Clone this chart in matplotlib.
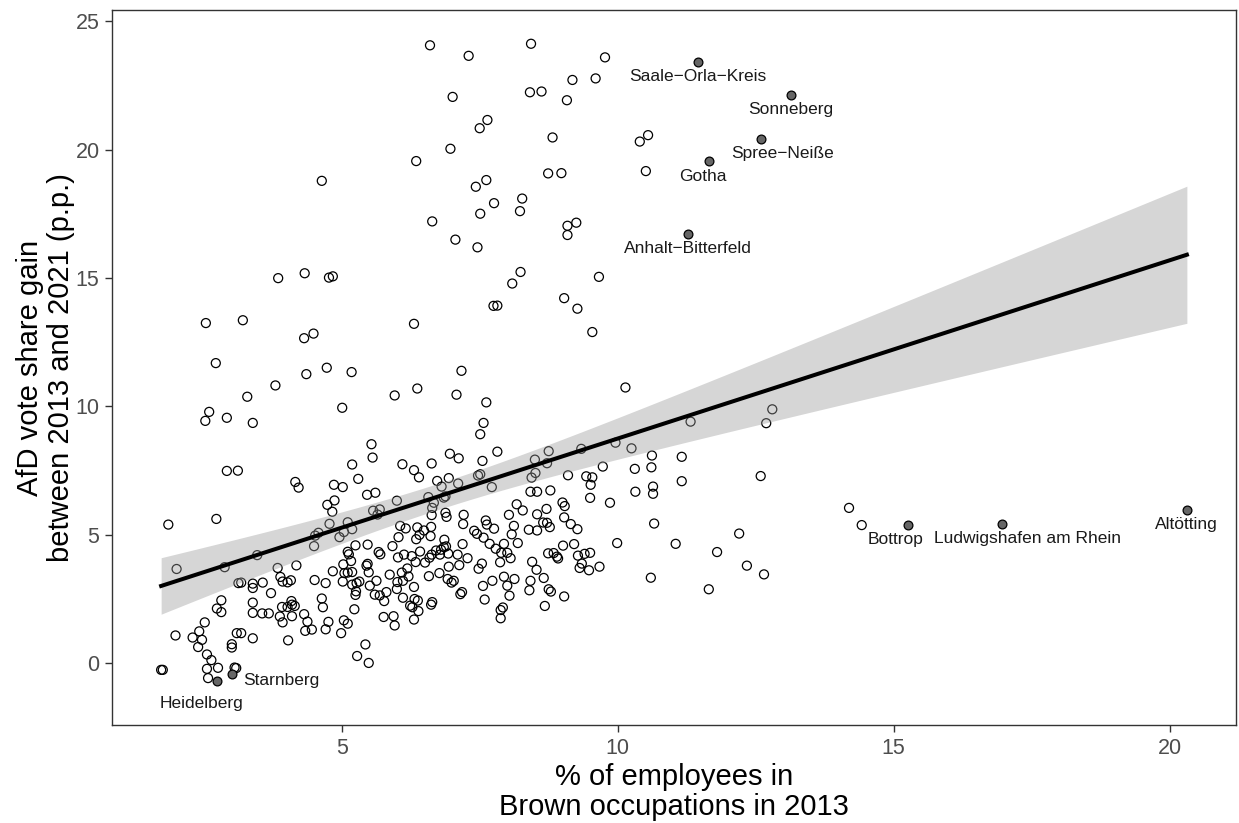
import numpy as np
import matplotlib
matplotlib.use("Agg")
import matplotlib.pyplot as plt

plt.rcParams['font.family'] = ['Liberation Sans', 'DejaVu Sans']

# districts: share of brown occupations 2013 (%) vs AfD gain 2013-2021 (p.p.)
brown_share = [
    4.64, 3.85, 4.33, 4.77, 4.84, 2.54, 3.21, 4.32, 4.49, 2.72, 4.36, 4.73, 5.18, 3.80,
    6.60, 7.30, 8.43, 9.77, 7.01, 9.18, 9.60, 8.41, 8.62, 9.08, 7.50, 7.64, 8.82, 6.97,
    10.40, 10.55, 6.35, 10.51, 8.74, 8.98, 7.43, 7.62, 8.27, 7.76, 7.51, 8.23, 6.64, 9.09,
    9.25, 9.09, 7.06, 7.46, 8.24, 8.09, 9.66, 7.75, 7.82, 9.03, 9.27, 6.31, 9.54, 7.17,
    6.37, 10.14,
    3.29, 2.60, 2.53, 2.92, 3.39, 2.92, 3.12, 4.16, 4.22, 1.86, 2.73,
    5.01, 5.96, 7.08, 7.62, 7.57, 7.51, 7.82, 5.54, 5.56, 6.96, 7.12, 5.19, 6.10, 6.63,
    6.31, 6.40, 7.55, 5.30, 4.86, 5.02, 6.73, 6.94, 7.11, 7.47, 7.51, 7.72, 5.46, 5.61,
    6.81, 6.57, 6.88, 6.85, 4.74, 4.87, 4.83, 6.00, 5.57, 5.69, 5.65, 6.64, 6.67, 4.78,
    5.11, 5.19, 4.58, 4.52, 4.96, 5.04, 4.50, 6.63, 6.88, 6.90, 7.21, 7.20, 7.61, 7.63,
    7.76, 6.06, 6.16, 6.37, 6.49, 6.62, 6.03, 6.35, 6.41, 6.61, 7.40, 7.45, 7.57, 7.68,
    6.86, 7.19,
    11.32, 8.75, 8.50, 8.72, 9.34, 9.96, 10.25, 10.62, 11.16, 8.51, 8.44, 9.10, 9.73,
    10.31, 10.61, 9.43, 9.54, 9.51, 11.16, 10.64, 10.64, 8.42, 8.54, 8.78, 10.32, 9.50,
    9.86, 8.17, 8.28, 9.00, 9.04, 8.71, 8.03, 8.54, 9.03, 10.66, 8.12, 8.65, 8.72, 8.77,
    9.15, 9.27, 8.39, 8.54, 8.08, 7.94, 8.19, 9.01, 9.21, 9.99, 11.05,
    7.79, 7.89, 8.00, 8.06, 7.87, 8.74, 8.84, 8.90, 8.92, 8.45, 8.53, 9.28, 9.40, 9.50,
    9.35, 9.31, 9.48, 9.67, 10.60, 11.65, 7.73, 7.94, 8.13, 8.00, 8.42, 8.40, 8.66, 8.75,
    8.79, 9.03, 8.04, 8.68, 7.92, 7.88, 7.88,
    2.01, 2.88, 3.47, 3.84, 4.18, 3.13, 3.18, 3.39, 3.39, 3.57, 3.89, 3.93, 4.02, 4.08,
    3.72, 2.82, 2.74, 2.82, 3.39, 3.39, 3.56, 3.68, 3.92, 4.09, 4.02, 4.10, 4.15, 3.88,
    3.93, 4.10, 4.32, 4.38, 4.34, 2.52, 2.42, 2.30, 2.47, 2.40, 1.99, 3.10, 3.18, 3.39,
    4.03, 3.01, 3.01, 2.56, 2.64, 2.56, 2.76, 3.06, 3.09, 2.58, 1.73, 1.76,
    5.25, 5.47, 5.92, 5.67, 5.70, 5.11, 5.13, 5.17, 6.02, 6.13, 6.27, 6.42, 6.34, 6.51,
    6.59, 6.63, 6.71, 6.80, 6.78, 6.89, 6.93, 6.85, 7.10, 7.28, 5.03, 4.84, 5.05, 5.11,
    5.19, 5.45, 5.47, 5.49, 5.87, 6.09, 6.19, 6.21, 6.01, 6.00, 6.11, 6.31, 6.58, 6.77,
    6.94, 7.13, 6.92, 6.99, 7.03, 7.15, 7.18, 7.48, 7.54, 7.56, 7.59, 4.51, 4.71, 5.02,
    5.19, 5.27, 5.32, 5.26, 5.25, 5.51, 5.63, 5.60, 5.69, 5.81, 5.77, 6.11, 6.32, 6.38,
    6.24, 6.28, 6.39, 6.31, 6.64, 6.62, 4.64, 4.66, 5.23, 5.76, 5.94, 5.96, 5.04, 5.11,
    4.76, 4.71, 4.46, 4.99, 5.43, 5.28, 5.49,
    12.80, 12.69, 12.59, 14.19, 14.42, 12.20, 11.80, 12.34, 12.65,
]
afd_gain = [
    18.79, 15.00, 15.19, 15.02, 15.07, 13.25, 13.36, 12.66, 12.84, 11.69, 11.26, 11.51, 11.34, 10.82,
    24.07, 23.66, 24.13, 23.60, 22.06, 22.72, 22.78, 22.24, 22.27, 21.93, 20.84, 21.16, 20.48, 20.04,
    20.32, 20.57, 19.56, 19.17, 19.08, 19.09, 18.56, 18.82, 18.10, 17.92, 17.51, 17.61, 17.21, 17.04,
    17.16, 16.68, 16.50, 16.20, 15.24, 14.79, 15.05, 13.92, 13.93, 14.22, 13.81, 13.22, 12.90, 11.39,
    10.70, 10.74,
    10.38, 9.79, 9.44, 9.56, 9.36, 7.49, 7.50, 7.06, 6.84, 5.40, 5.62,
    9.95, 10.43, 10.46, 10.16, 9.36, 8.92, 8.24, 8.53, 8.01, 8.16, 7.98, 7.74, 7.75, 7.78,
    7.52, 7.24, 7.88, 7.18, 6.95, 6.86, 7.10, 7.21, 7.00, 7.31, 7.36, 6.86, 6.56, 6.64,
    6.88, 6.47, 6.50, 6.45, 6.17, 6.34, 5.90, 6.33, 5.94, 5.99, 5.79, 6.05, 6.25, 5.43,
    5.49, 5.22, 5.08, 4.97, 4.91, 5.11, 4.56, 5.77, 5.86, 5.70, 5.78, 5.42, 5.56, 5.40,
    5.24, 5.35, 5.25, 5.29, 5.17, 5.31, 4.91, 4.83, 5.00, 4.95, 5.16, 5.04, 4.89, 4.65,
    4.81, 4.64,
    9.41, 8.26, 7.93, 7.79, 8.35, 8.59, 8.37, 8.09, 8.04, 7.41, 7.23, 7.32, 7.66,
    7.57, 7.63, 7.28, 7.24, 6.95, 7.09, 6.88, 6.60, 6.68, 6.68, 6.73, 6.68, 6.44,
    6.25, 6.19, 5.95, 6.26, 6.12, 6.01, 5.78, 5.80, 5.68, 5.44, 5.35, 5.48, 5.47, 5.30,
    5.42, 5.22, 5.20, 5.17, 5.02, 4.65, 4.68, 4.58, 4.64, 4.68, 4.65,
    4.46, 4.30, 4.30, 4.09, 3.93, 4.28, 4.29, 4.15, 4.08, 3.95, 3.64, 4.19, 4.26, 4.30,
    3.88, 3.71, 3.62, 3.76, 3.33, 2.88, 3.21, 3.37, 3.28, 3.02, 3.21, 2.84, 3.32, 2.88,
    2.79, 2.60, 2.63, 2.23, 2.17, 2.07, 1.75,
    3.67, 3.74, 4.21, 3.71, 3.81, 3.12, 3.14, 3.10, 2.93, 3.14, 3.36, 3.18, 3.15, 3.23,
    2.73, 2.45, 2.13, 1.99, 2.36, 1.96, 1.94, 1.94, 2.19, 2.42, 2.19, 2.28, 2.23, 1.82,
    1.59, 1.83, 1.91, 1.62, 1.26, 1.59, 1.24, 1.00, 0.91, 0.63, 1.08, 1.17, 1.17, 0.97,
    0.89, 0.74, 0.61, 0.34, 0.12, -0.22, -0.18, -0.17, -0.19, -0.58, -0.26, -0.26,
    4.59, 4.62, 4.56, 4.33, 4.24, 4.34, 4.24, 3.98, 4.12, 4.23, 4.17, 4.35, 3.94, 3.92,
    4.11, 4.23, 4.39, 4.42, 4.23, 4.55, 4.27, 4.52, 4.23, 4.09, 3.85, 3.58, 3.51, 3.53,
    3.55, 3.80, 3.87, 3.54, 3.45, 3.53, 3.69, 3.38, 3.16, 2.89, 3.21, 2.97, 3.39, 3.51,
    3.76, 3.82, 3.28, 3.14, 3.21, 2.69, 2.77, 3.68, 3.88, 3.01, 2.48, 3.24, 3.12, 3.18,
    3.06, 3.12, 3.18, 2.80, 2.66, 3.02, 3.21, 2.67, 2.64, 2.77, 2.42, 2.55, 2.50, 2.44,
    2.24, 2.18, 2.03, 1.70, 2.38, 2.28, 2.52, 2.18, 2.10, 1.80, 1.83, 1.47, 1.67, 1.54,
    1.61, 1.32, 1.31, 1.17, 0.73, 0.28, 0.01,
    9.89, 9.35, 7.29, 6.05, 5.38, 5.05, 4.33, 3.80, 3.46,
]

# named districts, drawn filled and labelled
named = ['Saale−Orla−Kreis', 'Sonneberg', 'Spree−Neiße', 'Gotha', 'Anhalt−Bitterfeld',
         'Bottrop', 'Ludwigshafen am Rhein', 'Altötting', 'Starnberg', 'Heidelberg']
named_share = [11.46, 13.14, 12.59, 11.65, 11.28, 15.25, 16.96, 20.31, 3.01, 2.74]
named_gain = [23.42, 22.15, 20.41, 19.58, 16.73, 5.37, 5.43, 5.98, -0.41, -0.69]

# label offsets from their point (data units)
label_dx = [0.0, 0.0, 0.39, -0.11, 0.0, -0.21, 0.46, -0.01, 0.90, -0.27]
label_dy = [-0.56, -0.57, -0.54, -0.63, -0.57, -0.57, -0.56, -0.57, -0.25, -0.88]

x_all = np.array(brown_share + named_share)
y_all = np.array(afd_gain + named_gain)

# linear fit with 95% confidence band
n = len(x_all)
slope, intercept = np.polyfit(x_all, y_all, 1)
resid = y_all - (slope * x_all + intercept)
s = np.sqrt(np.sum(resid ** 2) / (n - 2))
sxx = np.sum((x_all - x_all.mean()) ** 2)
xs = np.linspace(x_all.min(), x_all.max(), 200)
fit = slope * xs + intercept
se = s * np.sqrt(1.0 / n + (xs - x_all.mean()) ** 2 / sxx)
t_crit = 1.967

fig = plt.figure(figsize=(12.39, 8.23), dpi=100)
ax = fig.add_axes([0.0904, 0.119, 0.9072, 0.869])

ax.scatter(brown_share, afd_gain, s=42, facecolors='none', edgecolors='black',
           linewidths=0.9, zorder=2)
ax.scatter(named_share, named_gain, s=40, facecolors='#666666', edgecolors='black',
           linewidths=0.9, zorder=2)

ax.fill_between(xs, fit - t_crit * se, fit + t_crit * se, color='#999999', alpha=0.4,
                linewidth=0, zorder=3)
ax.plot(xs, fit, color='black', linewidth=2.9, zorder=4)

for name, x, y, dx, dy in zip(named, named_share, named_gain, label_dx, label_dy):
    ax.text(x + dx, y + dy, name, ha='center', va='center', fontsize=12.5,
            color='#1a1a1a', zorder=5)

ax.set_xlim(0.84, 21.2)
ax.set_ylim(-2.41, 25.45)
ax.set_xticks([5, 10, 15, 20])
ax.set_yticks([0, 5, 10, 15, 20, 25])
ax.tick_params(axis='both', direction='out', length=5, width=1.0, color='#333333',
               labelsize=15.5, labelcolor='#4D4D4D', pad=4)
for sp in ax.spines.values():
    sp.set_color('#333333')
    sp.set_linewidth(1.0)

ax.set_xlabel('% of employees in\nBrown occupations in 2013', fontsize=21,
              labelpad=3, linespacing=1.1)
ax.set_ylabel('AfD vote share gain\nbetween 2013 and 2021 (p.p.)', fontsize=21,
              labelpad=0, linespacing=1.15)

fig.savefig('out.png', dpi=100)
